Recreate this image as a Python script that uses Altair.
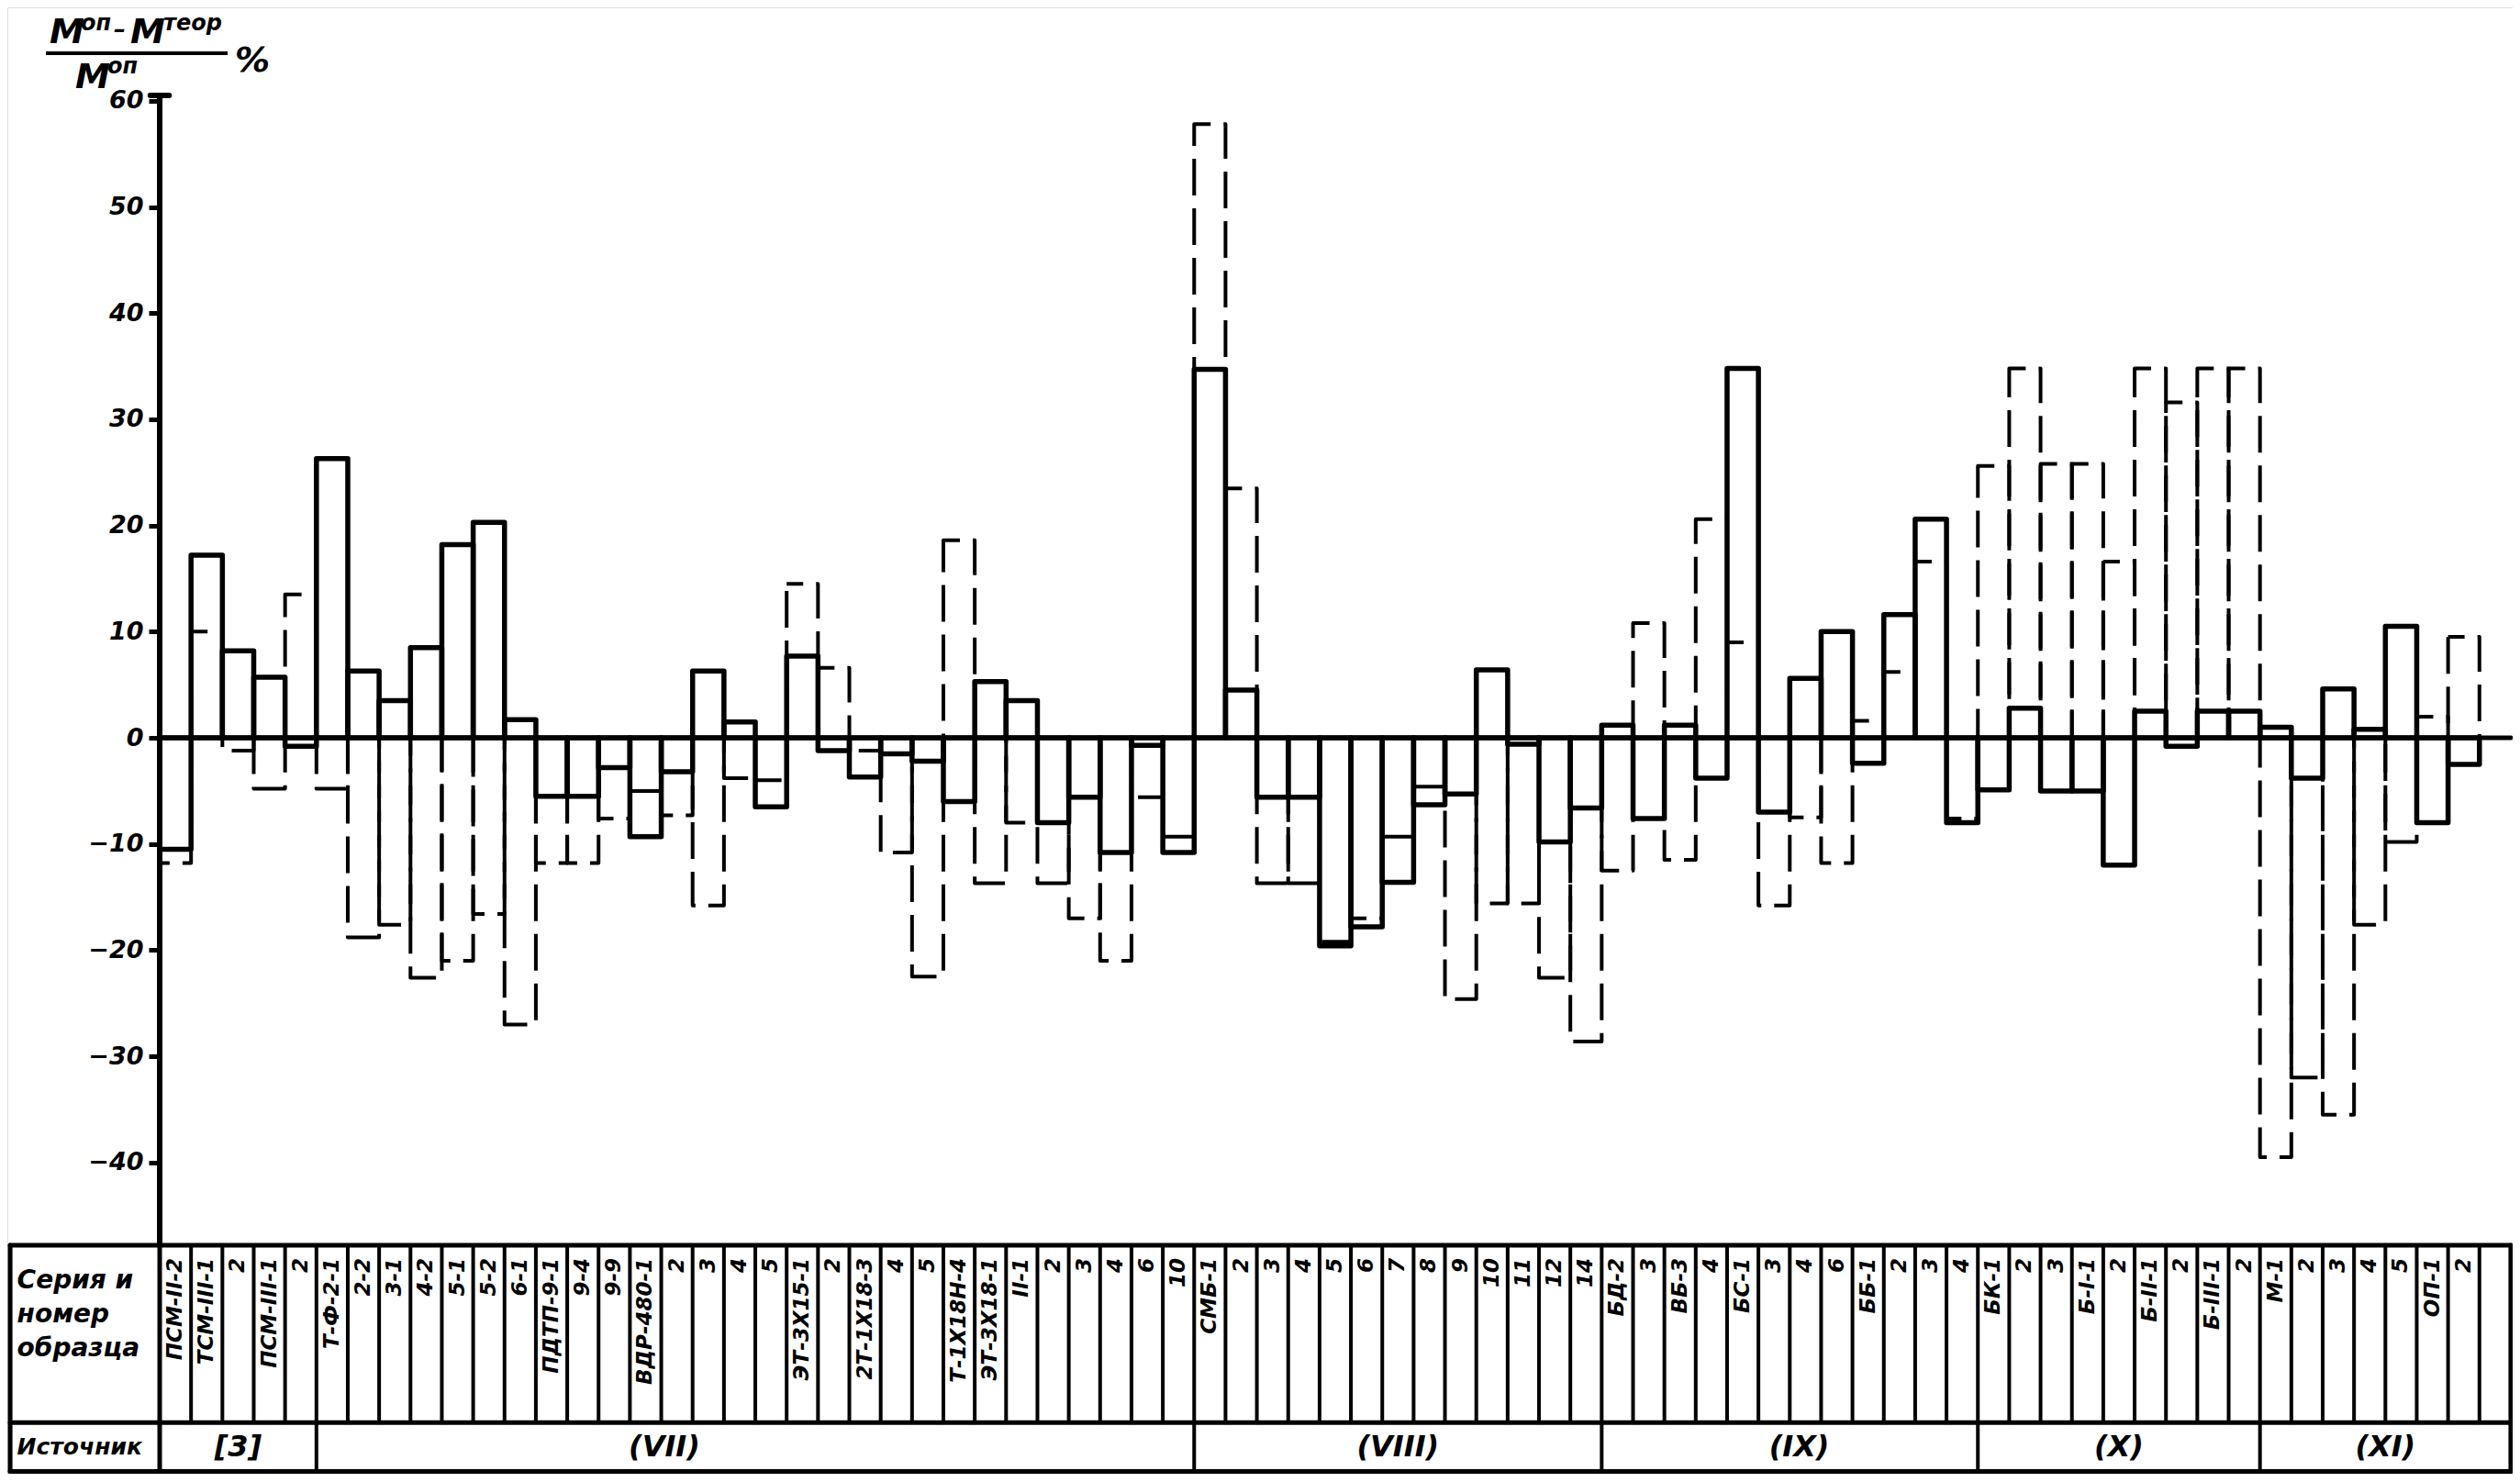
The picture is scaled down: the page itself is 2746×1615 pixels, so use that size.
import altair as alt
import pandas as pd

# ---- data ----
labels = ["ПСМ-II-2", "ТСМ-III-1", "2", "ПСМ-III-1", "2",
          "Т-Ф-2-1", "2-2", "3-1", "4-2", "5-1", "5-2", "6-1", "ПДТП-9-1", "9-4", "9-9",
          "ВДР-480-1", "2", "3", "4", "5", "ЭТ-3Х15-1", "2", "2Т-1Х18-3", "4", "5",
          "Т-1Х18Н-4", "ЭТ-3Х18-1", "II-1", "2", "3", "4", "6", "10",
          "СМБ-1", "2", "3", "4", "5", "6", "7", "8", "9", "10", "11", "12", "14",
          "БД-2", "3", "ВБ-3", "4", "БС-1", "3", "4", "6", "ББ-1", "2", "3", "4",
          "БК-1", "2", "3", "Б-I-1", "2", "Б-II-1", "2", "Б-III-1", "2",
          "М-1", "2", "3", "4", "5", "ОП-1", "2", ""]

solid = [-10.5, 17.2, 8.2, 5.7, -0.8, 26.3, 6.3, 3.5, 8.5, 18.2, 20.3, 1.7, -5.5, -5.5, -2.8,
         -9.3, -3.2, 6.3, 1.5, -6.5, 7.7, -1.2, -3.7, -1.5, -2.2, -6.0, 5.3, 3.5, -8.0, -5.6,
         -10.8, -0.7, -10.8, 34.7, 4.5, -5.6, -5.6, -19.6, -17.8, -13.6, -6.3, -5.3, 6.4, -0.6,
         -9.8, -6.6, 1.2, -7.6, 1.2, -3.8, 34.8, -7.0, 5.6, 10.0, -2.4, 11.6, 20.6, -8.0, -4.9,
         2.8, -5.0, -5.0, -12.0, 2.5, -0.8, 2.5, 2.5, 1.0, -3.8, 4.6, 0.8, 10.5, -8.0, -2.5, None]

dashed = [-11.8, 10.0, -1.2, -4.8, 13.5, -4.8, -18.8, -17.6, -22.6, -21.0, -16.6, -27.0, -11.8,
          -11.8, -7.6, -5.0, -7.3, -15.8, -3.8, -4.0, 14.5, 6.6, -1.2, -10.8, -22.5, 18.6, -13.7,
          -8.0, -13.7, -17.0, -21.0, -5.6, -9.3, 57.8, 23.5, -13.7, -13.7, -19.2, -17.0, -9.3,
          -4.6, -24.6, -15.6, -15.6, -22.6, -28.6, -12.5, 10.8, -11.5, 20.6, 9.0, -15.8, -7.5,
          -11.8, 1.6, 6.2, 16.6, -7.6, 25.6, 34.8, 25.8, 25.8, 16.6, 34.8, 31.6, 34.8, 34.8,
          -39.5, -32.0, -35.5, -17.6, -9.8, 2.0, 9.5, None]

sources = ["[3]", "(VII)", "(VIII)", "(IX)", "(X)", "(XI)"]
source_start = [0, 5, 33, 46, 58, 67]
source_label_pos = [2.5, 16.1, 39.5, 52.3, 62.5, 71.0]
header_lines = ["Серия и", "номер", "образца"]
source_header = "Источник"
y_ticks = [-40, -30, -20, -10, 0, 10, 20, 30, 40, 50, 60]

# ---- layout constants ----
N = len(labels)
X_DOM = [-4.86, 75.06]
Y_DOM = [-69.4, 68.8]
T_TOP, T_MID, T_BOT = -47.8, -64.5, -69.1
T_LEFT, T_RIGHT = -4.77, 75.0
FONT = "DejaVu Sans"

xs = alt.Scale(domain=X_DOM, nice=False, zero=False)
ys = alt.Scale(domain=Y_DOM, nice=False, zero=False)
Y_AXIS = alt.Axis(values=y_ticks, domain=False, grid=False, title=None,
                  tickSize=12, tickWidth=5, tickColor="black",
                  labelFont=FONT, labelFontSize=27, labelFontStyle="italic",
                  labelFontWeight="bold", labelColor="black", labelPadding=6,
                  offset=-166, format="d")


def Y(field):
    return alt.Y(field, scale=ys, axis=Y_AXIS)


def X(field):
    return alt.X(field, scale=xs, axis=None)


bars = pd.DataFrame({"i": list(range(N)), "i1": [k + 1 for k in range(N)],
                     "xc": [k + 0.5 for k in range(N)],
                     "label": labels, "solid": solid, "dashed": dashed})

dashed_layer = alt.Chart(bars).transform_filter("isValid(datum.dashed)").transform_calculate(
    base="0").mark_rect(
    filled=False, color="black", strokeWidth=4, strokeDash=[40, 14], strokeDashOffset=22,
    strokeJoin="round"
).encode(x=X("i:Q"), x2="i1:Q", y=Y("dashed:Q"), y2="base:Q")

solid_layer = alt.Chart(bars).transform_filter("isValid(datum.solid)").transform_calculate(
    base="0").mark_rect(
    filled=False, color="black", strokeWidth=5.5, strokeJoin="round"
).encode(x=X("i:Q"), x2="i1:Q", y=Y("solid:Q"), y2="base:Q")

# axis lines and table grid (segments)
segs = []
segs.append((0, 0, T_TOP, 60.5, 6))          # y axis line
segs.append((0, T_RIGHT, 0, 0, 5))           # zero line
for yy in (T_TOP, T_MID, T_BOT):
    segs.append((T_LEFT, T_RIGHT, yy, yy, 5))
segs.append((T_LEFT, T_LEFT, T_TOP, T_BOT, 5))
segs.append((T_RIGHT, T_RIGHT, T_TOP, T_BOT, 5))
segs.append((0, 0, T_TOP, T_BOT, 5))
for k in range(1, N):
    segs.append((k, k, T_TOP, T_MID, 4))
for s in source_start[1:]:
    segs.append((s, s, T_MID, T_BOT, 4))
segs.append((-0.3, 0.3, 60.5, 60.5, 6))      # cap of the y axis
seg_df = pd.DataFrame(segs, columns=["x", "x2", "y", "y2", "w"])

rules = alt.Chart(seg_df).mark_rule(color="black", strokeCap="round").encode(
    x=X("x:Q"), x2="x2:Q", y=Y("y:Q"), y2="y2:Q",
    strokeWidth=alt.StrokeWidth("w:Q", scale=None, legend=None),
)

cell_text = alt.Chart(bars).transform_calculate(ty="-49.0").mark_text(
    angle=270, align="right", baseline="middle", font=FONT, fontSize=23,
    fontStyle="italic", fontWeight="bold", color="black"
).encode(x=X("xc:Q"), y=Y("ty:Q"), text="label:N")

hdr = pd.DataFrame({"t": header_lines, "y": [-51.2, -54.4, -57.6]})
header_text = alt.Chart(hdr).transform_calculate(tx="-4.55").mark_text(
    align="left", baseline="middle", font=FONT, fontSize=28, fontStyle="italic",
    fontWeight="bold", color="black"
).encode(x=X("tx:Q"), y=Y("y:Q"), text="t:N")

src_hdr = alt.Chart(pd.DataFrame({"t": [source_header]})).transform_calculate(
    tx="-4.55", ty="-66.8").mark_text(
    align="left", baseline="middle", font=FONT, fontSize=25, fontStyle="italic",
    fontWeight="bold", color="black"
).encode(x=X("tx:Q"), y=Y("ty:Q"), text="t:N")

src_df = pd.DataFrame({"t": sources, "x": source_label_pos})
src_text = alt.Chart(src_df).transform_calculate(ty="-66.8").mark_text(
    align="center", baseline="middle", font=FONT, fontSize=32, fontStyle="italic",
    fontWeight="bold", color="black"
).encode(x=X("x:Q"), y=Y("ty:Q"), text="t:N")


# y-axis title as a fraction
def txt(t, px, py, size):
    return alt.Chart(pd.DataFrame({"t": [t]})).mark_text(
        align="left", baseline="alphabetic", font=FONT, fontSize=size,
        fontStyle="italic", fontWeight="bold", color="black"
    ).encode(x=alt.value(px), y=alt.value(py), text="t:N")


title_parts = [
    txt("M", 46, 39, 38), txt("оп", 80, 25, 24), txt("–", 116, 33, 26),
    txt("M", 134, 39, 38), txt("теор", 170, 25, 24),
    txt("M", 74, 88, 38), txt("оп", 109, 72, 24), txt("%", 248, 70, 38),
]
frac_line = alt.Chart(pd.DataFrame({"a": [0]})).mark_rule(
    color="black", strokeWidth=4).encode(
    x=alt.value(42), x2=alt.value(240), y=alt.value(50))

chart = alt.layer(
    dashed_layer, solid_layer, rules, cell_text, header_text, src_hdr, src_text,
    frac_line, *title_parts
).properties(
    width=2730, height=1599,
    autosize=alt.AutoSizeParams(type="none"),
    padding={"left": 0, "right": 0, "top": 0, "bottom": 0},
).configure_view(strokeWidth=0).configure(background="white")

chart.save("out.html", embed_options={"renderer": "svg", "actions": False})
